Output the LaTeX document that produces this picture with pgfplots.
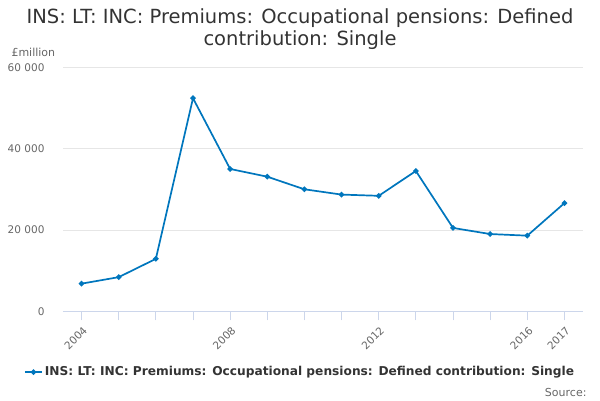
\documentclass[border=0pt]{standalone}
\usepackage{pgfplots}
\pgfplotsset{compat=1.18}
\usepackage{fontspec}
\setmainfont{DejaVu Sans}
\definecolor{ons}{RGB}{0,118,189}
\definecolor{txt}{RGB}{51,51,51}
\definecolor{lbl}{RGB}{102,102,102}
\definecolor{gridc}{RGB}{230,230,230}
\definecolor{axisc}{RGB}{204,214,235}
\begin{document}
\begin{tikzpicture}[x=1pt,y=1pt]
\path[use as bounding box] (0,0) rectangle (600,400);
\node[font=\fontsize{19.5}{22}\selectfont, text=txt, align=center] at (300,371) {INS: LT: INC: Premiums: Occupational pensions: Defined\\contribution: Single};
\node[font=\fontsize{11}{13}\selectfont, text=lbl, anchor=west] at (8,348) {£million};
\node[font=\fontsize{11}{13}\selectfont, text=lbl, anchor=east] at (590,8) {Source:};
\begin{axis}[
  at={(63pt,88.7pt)}, anchor=south west,
  scale only axis, width=520pt, height=244pt,
  xmin=2003.5, xmax=2017.5, ymin=0, ymax=60000,
  axis x line*=bottom, axis y line*=left,
  x axis line style={draw=axisc, line width=0.8pt},
  y axis line style={draw=none},
  xtick={2004,2008,2012,2016,2017},
  xticklabels={2004,2008,2012,2016,2017},
  minor xtick={2005,2006,2007,2009,2010,2011,2013,2014,2015},
  x tick style={draw=axisc, line width=0.8pt},
  tick align=outside, major tick length=9pt, minor tick length=9pt,
  xticklabel style={rotate=45, anchor=north east, font=\fontsize{10.5}{12}\selectfont, text=lbl, yshift=-1pt},
  ytick={0,20000,40000,60000},
  yticklabels={0,20 000,40 000,60 000},
  scaled y ticks=false,
  y tick style={draw=none},
  yticklabel style={font=\fontsize{10.5}{12}\selectfont, text=lbl, xshift=-6pt},
  ymajorgrids, grid style={draw=gridc, line width=0.8pt},
  legend style={at={(0.456,-0.249)}, anchor=center, draw=none, fill=none,
    font=\fontsize{12.2}{14}\selectfont\bfseries, text=txt},
  legend cell align=left,
]
\addplot[color=ons, line width=1.7pt, mark=*, mark size=1.8pt] coordinates {
(2004,6800) (2005,8400) (2006,12900) (2007,52400) (2008,35000) (2009,33100)
(2010,30000) (2011,28700) (2012,28400) (2013,34500) (2014,20500) (2015,19000)
(2016,18600) (2017,26600)};
\addlegendentry{INS: LT: INC: Premiums: Occupational pensions: Defined contribution: Single}
\end{axis}
\end{tikzpicture}
\end{document}
